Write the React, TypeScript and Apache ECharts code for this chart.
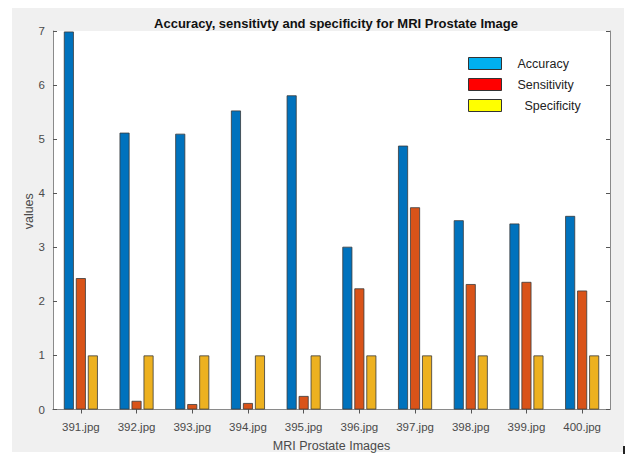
import React, { useEffect, useRef } from "react";
import * as echarts from "echarts";

const categories = ["391.jpg", "392.jpg", "393.jpg", "394.jpg", "395.jpg", "396.jpg", "397.jpg", "398.jpg", "399.jpg", "400.jpg"];
const accuracy = [6.99, 5.12, 5.1, 5.53, 5.81, 3.01, 4.88, 3.5, 3.44, 3.58];
const sensitivity = [2.43, 0.16, 0.1, 0.12, 0.25, 2.24, 3.74, 2.32, 2.36, 2.2];
const specificity = [1, 1, 1, 1, 1, 1, 1, 1, 1, 1];
const seriesNames = ["Accuracy", "Sensitivity", "Specificity"];
const yTicks = { min: 0, max: 7, interval: 1 };

const barColors = ["#0072BD", "#D95319", "#EDB120"];
const legendColors = ["#00B0F0", "#FF0000", "#FFFF00"];

export default function App() {
  const ref = useRef<HTMLDivElement>(null);
  useEffect(() => {
    if (!ref.current) return;
    const chart = echarts.init(ref.current, null, { renderer: "svg" });
    const axisGray = "#8a8a8a";
    const labelColor = "#4a4a4a";
    const font = "Liberation Sans, Arial, sans-serif";
    const mkSeries = (name: string, data: number[], i: number) => ({
      name,
      type: "bar",
      data,
      barWidth: 10,
      barGap: "20%",
      itemStyle: { color: barColors[i], borderColor: "#3a3a3a", borderWidth: 0.8 },
      xAxisIndex: 0,
      yAxisIndex: 0,
    });
    chart.setOption({
      animation: false,
      backgroundColor: "#ffffff",
      textStyle: { fontFamily: font },
      graphic: [
        { type: "rect", z: -100, silent: true, shape: { x: 12, y: 8, width: 612, height: 444 }, style: { fill: "#F0F0F0" } },
        { type: "rect", z: 100, silent: true, shape: { x: 623, y: 446, width: 2, height: 8 }, style: { fill: "#222" } },
      ],
      title: {
        text: "Accuracy, sensitivty and specificity for MRI Prostate Image",
        left: 331,
        textAlign: "center",
        top: 12,
        textStyle: { fontSize: 13, fontWeight: "bold", color: "#111", fontFamily: font },
      },
      legend: {
        orient: "vertical",
        left: 463,
        top: 52,
        itemWidth: 33,
        itemHeight: 12,
        itemGap: 8,
        icon: "rect",
        textStyle: { fontSize: 12.5, color: "#222", padding: [0, 0, 0, 11], fontFamily: font },
        data: seriesNames.map((n, i) => ({
          name: n,
          itemStyle: { color: legendColors[i], borderColor: "#333", borderWidth: 1 },
          textStyle: i === 2 ? { padding: [0, 0, 0, 18] } : undefined,
        })),
      },
      grid: {
        left: 53,
        right: 17,
        top: 31,
        bottom: 44.5,
        show: true,
        backgroundColor: "#ffffff",
        borderWidth: 0,
        containLabel: false,
        outerBoundsMode: "none",
      },
      xAxis: [
        {
          type: "category",
          data: categories,
          boundaryGap: true,
          position: "bottom",
          axisLine: { lineStyle: { color: axisGray, width: 1 } },
          axisTick: { show: true, inside: true, alignWithLabel: true, length: 4, lineStyle: { color: "#555" } },
          axisLabel: { color: labelColor, fontSize: 11.5, margin: 11 },
          name: "MRI Prostate Images",
          nameLocation: "middle",
          nameGap: 30,
          nameMoveOverlap: false,
          nameTextStyle: { color: labelColor, fontSize: 12.5 },
          splitLine: { show: false },
        },
        {
          type: "category",
          data: categories,
          boundaryGap: true,
          position: "top",
          axisLine: { lineStyle: { color: axisGray, width: 1 } },
          axisTick: { show: true, inside: true, alignWithLabel: true, length: 4, lineStyle: { color: "#555" } },
          axisLabel: { show: false },
          splitLine: { show: false },
        },
      ],
      yAxis: [
        {
          type: "value",
          min: yTicks.min,
          max: yTicks.max,
          interval: yTicks.interval,
          position: "left",
          axisLine: { show: true, lineStyle: { color: axisGray, width: 1 } },
          axisTick: { show: true, inside: true, length: 4, lineStyle: { color: "#555" } },
          axisLabel: { color: labelColor, fontSize: 11.5, margin: 8 },
          splitLine: { show: false },
          name: "values",
          nameLocation: "middle",
          nameGap: 18,
          nameMoveOverlap: false,
          nameTextStyle: { color: labelColor, fontSize: 12.5, padding: [0, 0, 0, 18] },
        },
        {
          type: "value",
          min: yTicks.min,
          max: yTicks.max,
          interval: yTicks.interval,
          position: "right",
          axisLine: { show: true, lineStyle: { color: axisGray, width: 1 } },
          axisTick: { show: true, inside: true, length: 4, lineStyle: { color: "#555" } },
          axisLabel: { show: false },
          splitLine: { show: false },
        },
      ],
      series: [
        mkSeries(seriesNames[0], accuracy, 0),
        mkSeries(seriesNames[1], sensitivity, 1),
        mkSeries(seriesNames[2], specificity, 2),
      ],
    });
    return () => chart.dispose();
  }, []);
  return (
    <div
      ref={ref}
      style={{ position: "absolute", left: 0, top: 0, width: 627, height: 454, background: "#fff" }}
    />
  );
}
